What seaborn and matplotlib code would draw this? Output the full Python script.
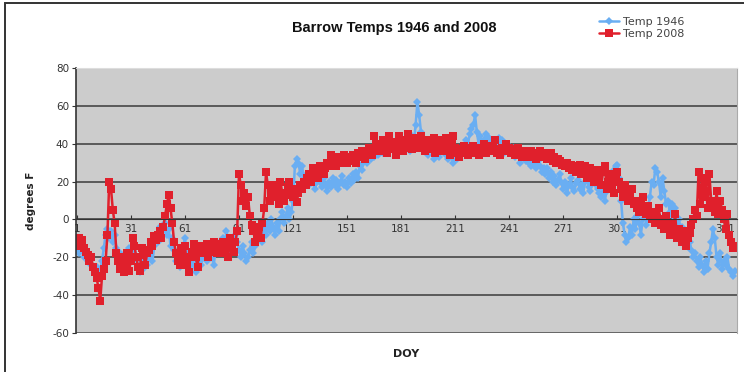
import numpy as np
import pandas as pd
import matplotlib
matplotlib.use("Agg")
import matplotlib.pyplot as plt
import seaborn as sns
from matplotlib.patches import Rectangle

# Daily temperatures (deg F), day of year 1..366
temp_1946 = [
    -15, -18, -13, -16, -20, -18, -22, -19, -24, -26,
    -28, -25, -30, -27, -22, -15, -8, -5, -10, -6,
    -12, -8, -15, -20, -18, -24, -22, -26, -20, -15,
    -18, -22, -14, -20, -25, -28, -22, -26, -18, -24,
    -20, -16, -22, -14, -8, -12, -4, -10, -6, -2,
    -8, -5, -14, -10, -16, -22, -18, -25, -20, -14,
    -10, -18, -22, -26, -20, -24, -28, -22, -18, -24,
    -20, -16, -22, -18, -14, -20, -24, -16, -12, -18,
    -14, -10, -16, -6, -12, -18, -14, -10, -8, -12,
    -16, -20, -14, -18, -22, -20, -16, -12, -18, -14,
    -10, -6, -8, -12, -4, -8, -2, -6, 0, -4,
    -8, -2, -6, 0, 4, -2, 2, 6, 0, 4,
    10, 28, 32, 30, 24, 28, 22, 20, 24, 18,
    22, 20, 16, 19, 23, 20, 17, 22, 18, 15,
    20, 17, 22, 18, 21, 16, 19, 23, 18, 20,
    17, 22, 19, 24, 21, 25, 22, 28, 26, 30,
    32, 30, 34, 32, 35, 33, 36, 34, 38, 36,
    35, 38, 36, 40, 37, 39, 36, 38, 41, 38,
    36, 40, 38, 42, 39, 36, 44, 40, 50, 62,
    55, 46, 40, 36, 38, 34, 39, 36, 32, 35,
    38, 33, 36, 40, 37, 34, 32, 36, 33, 30,
    35, 32, 37, 34, 38, 36, 42, 40, 45, 48,
    50, 55, 46, 40, 44, 38, 42, 45, 40, 43,
    38, 41, 36, 40, 43, 38, 42, 35, 40, 37,
    39, 35, 38, 33, 36, 34, 30, 33, 35, 31,
    34, 30, 28, 32, 29, 27, 31, 28, 25, 27,
    24, 27, 22, 25, 20, 23, 18, 21, 24, 19,
    16, 20, 14, 18, 22, 17, 15, 19, 21, 16,
    18, 14, 20, 23, 17, 15, 19, 22, 18, 16,
    14, 12, 17, 10, 15, 20, 18, 24, 26, 28,
    29, 22, 10, -2, -8, -12, -10, -4, -8, 0,
    -5, 2, -2, -8, 0, 4, -3, 6, 12, 20,
    18, 27, 25, 20, 12, 22, 15, 8, 10, 4,
    8, 2, 6, -2, 0, -6, -4, -10, -8, -14,
    -12, -16, -20, -18, -22, -25, -20, -24, -28, -22,
    -26, -18, -12, -5, -10, -20, -24, -18, -26, -22,
    -24, -20, -26, -28, -30, -27,
]

temp_2008 = [
    -12, -10, -14, -11, -15, -17, -19, -22, -20, -25,
    -28, -31, -36, -43, -30, -26, -22, -8, 20, 16,
    5, -2, -18, -22, -26, -20, -28, -24, -18, -27,
    -22, -10, -14, -20, -25, -27, -15, -19, -24, -18,
    -16, -12, -14, -9, -11, -8, -6, -10, -4, 2,
    8, 13, 6, -2, -12, -18, -22, -24, -15, -20,
    -14, -24, -28, -20, -17, -13, -20, -25, -16, -14,
    -18, -15, -13, -20, -14, -17, -12, -15, -18, -13,
    -16, -12, -18, -14, -20, -10, -14, -17, -12, -6,
    24, 18, 10, 14, 7, 12, 2, -3, -6, -12,
    -8, -4, -10, -2, 6, 25, 18, 10, 14, 18,
    12, 16, 8, 20, 14, 10, 13, 17, 20, 15,
    12, 16, 9, 14, 18, 16, 20, 18, 22, 24,
    20, 27, 24, 26, 22, 28, 25, 24, 27, 30,
    28, 34, 30, 32, 28, 33, 31, 30, 34, 32,
    30, 33, 31, 34, 32, 30, 35, 33, 36, 34,
    32, 35, 38, 36, 34, 44, 40, 38, 36, 40,
    42, 38, 35, 44, 40, 37, 41, 34, 38, 44,
    40, 36, 42, 38, 45, 40, 37, 43, 39, 41,
    38, 44, 40, 36, 42, 38, 41, 37, 43, 35,
    40, 38, 42, 36, 39, 43, 37, 34, 40, 44,
    38, 35, 33, 37, 35, 39, 36, 34, 38, 36,
    39, 35, 37, 34, 38, 36, 40, 35, 37, 39,
    36, 38, 42, 35, 37, 34, 38, 36, 40, 37,
    38, 35, 37, 34, 36, 38, 35, 33, 36, 34,
    35, 33, 36, 34, 35, 32, 34, 36, 33, 35,
    34, 32, 33, 35, 31, 33, 30, 32, 31, 29,
    30, 28, 30, 27, 29, 26, 28, 25, 27, 29,
    24, 26, 28, 22, 25, 27, 23, 20, 24, 26,
    22, 18, 25, 28, 16, 20, 24, 18, 14, 22,
    25, 20, 16, 12, 18, 14, 10, 12, 16, 8,
    10, 6, 4, 8, 12, 5, 3, 7, 2, 0,
    4, -2, 1, 6, -3, 0, -5, 2, -4, -8,
    -2, -6, 3, -10, -5, -8, -12, -6, -14, -10,
    -7, -3, 0, 5, 2, 25, 8, 22, 12, 20,
    6, 24, 10, 7, 4, 15, 3, 10, 5, 0,
    -5, 3, -8, -12, -15, -14,
]

doy = np.arange(1, len(temp_1946) + 1)
x_ticks = list(range(1, 362, 30))
y_ticks = list(range(-60, 81, 20))

df = pd.DataFrame({"DOY": doy, "Temp 1946": temp_1946, "Temp 2008": temp_2008})

sns.set_style("white")
plt.rcParams['font.family'] = ['DejaVu Sans']
plt.rcParams['axes.unicode_minus'] = False

fig = plt.figure(figsize=(7.44, 3.72), dpi=100)
ax = fig.add_axes([0.102, 0.105, 0.889, 0.712])
ax.set_facecolor('#cccccc')

blue = '#6aaef2'
red = '#e0202c'
sns.lineplot(data=df, x="DOY", y="Temp 1946", ax=ax, color=blue, lw=1.8,
             marker='D', markersize=4.3, markeredgewidth=0, label="Temp 1946")
sns.lineplot(data=df, x="DOY", y="Temp 2008", ax=ax, color=red, lw=1.8,
             marker='s', markersize=5.8, markeredgewidth=0, label="Temp 2008")

ax.set_xlim(0.5, 367.5)
ax.set_ylim(-60, 80)
ax.set_yticks(y_ticks)
ax.set_xticks(x_ticks)
for yv in y_ticks[1:-1]:
    ax.axhline(yv, color='#3a3a3a', lw=1.1, zorder=0.5)

ax.spines['bottom'].set_position(('data', 0))
ax.spines['bottom'].set_color('#333333')
ax.spines['left'].set_color('#333333')
ax.spines['left'].set_linewidth(1.2)
ax.spines['top'].set_color('#dddddd')
ax.spines['right'].set_color('#aaaaaa')
ax.axhline(-60, color='#555555', lw=1.2, zorder=0.5)

ax.tick_params(axis='x', direction='in', length=3, pad=3, labelsize=7.5,
               colors='#333333', bottom=True)
ax.tick_params(axis='y', direction='out', length=3, pad=2, labelsize=7.5,
               colors='#333333', left=True)

ax.set_xlabel("DOY", fontsize=8, fontweight='bold', color='#222222')
ax.xaxis.set_label_coords(0.5, -0.06)
ax.set_ylabel("degrees F", fontsize=7.5, fontweight='bold', color='#222222')
ax.yaxis.set_label_coords(-0.06, 0.5)

fig.text(0.53, 0.925, "Barrow Temps 1946 and 2008", ha='center', va='center',
         fontsize=10.5, fontweight='bold', color='#111111',
         family=['Liberation Sans', 'DejaVu Sans'])

ax.legend_.remove()
handles, labels = ax.get_legend_handles_labels()
leg = fig.legend(handles, labels, loc='upper left', bbox_to_anchor=(0.795, 0.975),
                 frameon=False, fontsize=8, handlelength=1.8, handletextpad=0.3,
                 labelspacing=0.15, borderpad=0.2)
for t in leg.get_texts():
    t.set_color('#444444')

# outer chart frame
fig.patches.append(Rectangle((5 / 744, -0.05), 1.2, 1.05 - 3 / 372,
                             transform=fig.transFigure, fill=False,
                             edgecolor='#333333', lw=1.4))

fig.savefig("out.png", dpi=100)
